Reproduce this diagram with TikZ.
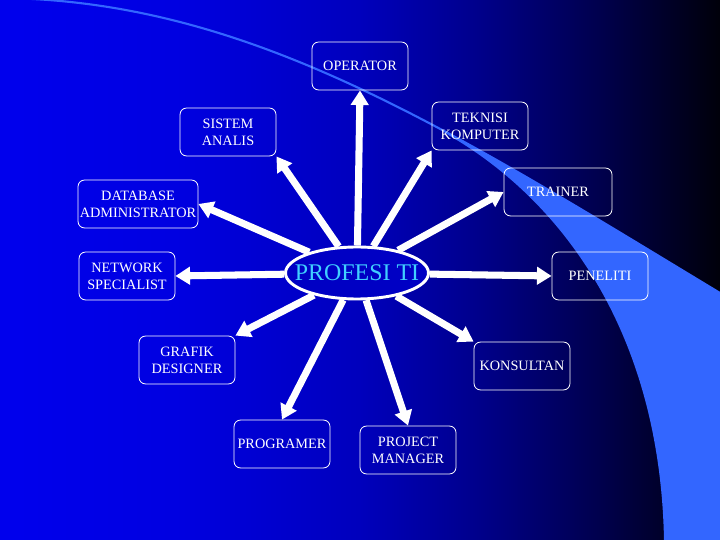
\documentclass[tikz,border=0pt]{standalone}
\usepackage{fontspec}
\setmainfont{Liberation Serif}
\usetikzlibrary{arrows.meta,shapes.geometric}

\definecolor{swooshblue}{RGB}{51,102,255}
\definecolor{hubblue}{RGB}{0,0,196}
\definecolor{profcyan}{RGB}{64,208,255}
\pgfdeclarehorizontalshading{slidebg}{100bp}{rgb(0bp)=(0,0,0.93); rgb(25bp)=(0,0,0.93); rgb(37.5bp)=(0,0,0.88); rgb(50bp)=(0,0,0.74); rgb(58bp)=(0,0,0.55); rgb(66.7bp)=(0,0,0.3); rgb(75bp)=(0,0,0.04); rgb(100bp)=(0,0,0.04)}

\begin{document}
\begin{tikzpicture}[x=0.03cm, y=-0.03cm,
  box/.style = {draw=white, line width=0.7pt, rounded corners=0.2cm, text=white, align=center,
                minimum width=2.88cm, minimum height=1.44cm, inner sep=1pt,
                font=\fontsize{12.2}{14.5}\selectfont},
  hub/.style = {ellipse, draw=white, line width=2.5pt, fill=hubblue,
                minimum width=4.29cm, minimum height=1.56cm, inner sep=0pt},
  hubtext/.style = {text=profcyan, font=\fontsize{20.4}{24}\selectfont},
  ray/.style = {white, line width=6pt, -{Triangle[length=0.44cm, width=0.52cm]}}]

% slide background
\useasboundingbox (0,0) rectangle (720,540);
\shade[shading=slidebg] (0,0) rectangle (720,540);
\begin{scope}
  \clip (0,-2) .. controls (250,0) and (450,130) .. (720,293) -- (720,540) -- (0,540) -- cycle;
  \fill[swooshblue] (400,100) -- (450,136) .. controls (560,200) and (660,330) .. (664,540)
    -- (730,540) -- (730,100) -- cycle;
\end{scope}
\draw[swooshblue, line width=1.8pt] (0,-2) .. controls (250,0) and (450,130) .. (720,293);

% centre and professions
\node[hub, label={[hubtext]center:PROFESI TI}] (pt) at (357,273) {};
\node[box] (oper) at (360,66) {OPERATOR};
\node[box] (tekn) at (480,126) {TEKNISI\\KOMPUTER};
\node[box] (sist) at (228,132) {SISTEM\\ANALIS};
\node[box, minimum width=3.24cm] (trainer) at (558,192) {TRAINER};
\node[box, minimum width=3.6cm] (dba) at (138,204) {DATABASE\\ADMINISTRATOR};
\node[box] (netw) at (127,276) {NETWORK\\SPECIALIST};
\node[box] (pen) at (600,276) {PENELITI};
\node[box] (grafik) at (187,360) {GRAFIK\\DESIGNER};
\node[box] (kons) at (522,366) {KONSULTAN};
\node[box] (prog) at (282,444) {PROGRAMER};
\node[box] (pm) at (408,450) {PROJECT\\MANAGER};

% arrows
\draw[ray] (pt) -- (oper.south);
\draw[ray] (pt) -- (tekn.south west);
\draw[ray] (pt) -- (sist.south east);
\draw[ray] (pt) -- (trainer.west);
\draw[ray] (pt) -- (dba.east);
\draw[ray] (pt) -- (netw.east);
\draw[ray] (pt) -- (pen.west);
\draw[ray] (pt) -- (grafik.north east);
\draw[ray] (pt) -- (kons.north west);
\draw[ray] (pt) -- (prog.north);
\draw[ray] (pt) -- (pm.north);

\end{tikzpicture}
\end{document}
